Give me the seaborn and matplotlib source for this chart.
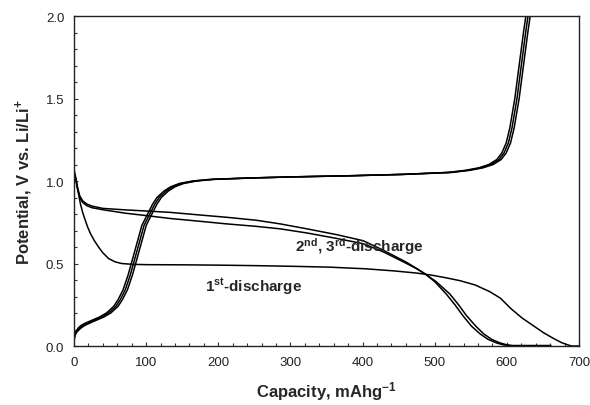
import numpy as np
import pandas as pd
import matplotlib
matplotlib.use('Agg')
import matplotlib.pyplot as plt
import seaborn as sns
from matplotlib.ticker import MultipleLocator

# --- values (capacity in mAh/g, potential in V) ---
# 1st discharge
d1_cap = [0, 3, 6, 9, 12, 15, 19, 23, 28, 34, 40, 48, 57, 66, 81, 101, 152, 202,
          253, 303, 354, 404, 444, 475, 495, 515, 535, 556, 576, 591, 606, 621,
          636, 651, 665, 676, 685, 690, 700]
d1_v = [1.05, 1.0, 0.93, 0.86, 0.81, 0.77, 0.72, 0.68, 0.64, 0.6, 0.565, 0.53,
        0.51, 0.5, 0.495, 0.493, 0.492, 0.49, 0.487, 0.483, 0.478, 0.468, 0.455,
        0.442, 0.43, 0.414, 0.396, 0.37, 0.33, 0.29, 0.225, 0.17, 0.125, 0.08,
        0.045, 0.02, 0.006, 0.0, 0.0]

# 2nd discharge
d2_cap = [0, 2, 5, 8, 12, 18, 25, 40, 71, 101, 133, 172, 212, 253, 286, 323, 364,
          401, 429, 461, 475, 487, 500, 516, 528, 539, 551, 563, 574, 586, 596,
          606, 661]
d2_v = [1.07, 1.03, 0.96, 0.91, 0.88, 0.86, 0.848, 0.834, 0.825, 0.818, 0.81,
        0.795, 0.78, 0.762, 0.74, 0.71, 0.675, 0.638, 0.58, 0.507, 0.47, 0.436,
        0.39, 0.315, 0.25, 0.184, 0.12, 0.073, 0.04, 0.018, 0.006, 0.003, 0.003]

# 3rd discharge
d3_cap = [0, 2, 5, 8, 12, 18, 25, 40, 71, 101, 133, 172, 212, 253, 286, 323, 364,
          401, 429, 461, 475, 487, 502, 521, 533, 544, 557, 568, 579, 591, 601, 606]
d3_v = [1.06, 1.02, 0.95, 0.9, 0.87, 0.85, 0.838, 0.826, 0.805, 0.79, 0.773,
        0.757, 0.74, 0.725, 0.71, 0.685, 0.652, 0.62, 0.57, 0.50, 0.468, 0.436,
        0.39, 0.315, 0.25, 0.184, 0.12, 0.073, 0.04, 0.018, 0.006, 0.003]

# charge curves (three cycles, same potential steps)
chg_v = [0.0, 0.05, 0.075, 0.09, 0.11, 0.125, 0.135, 0.145, 0.16, 0.175, 0.2,
         0.24, 0.28, 0.34, 0.43, 0.54, 0.65, 0.73, 0.8, 0.86, 0.9, 0.94, 0.965,
         0.985, 1.0, 1.01, 1.018, 1.025, 1.032, 1.04, 1.052, 1.065, 1.08, 1.10,
         1.13, 1.17, 1.23, 1.32, 1.5, 1.7, 1.9, 2.05]
c1_cap = [0, 0.5, 1.5, 3, 6, 10, 14, 19, 27, 35, 45, 55, 61, 68, 75, 82, 89, 94,
          102, 109, 115, 125, 134, 146, 164, 189, 239, 300, 381, 452, 518, 543,
          561, 575, 586, 593, 599, 604, 611, 617, 623, 628]
c2_cap = [0, 0.5, 2, 4, 8, 12, 17, 22, 30, 38, 48, 58, 64, 71, 78, 85, 92, 97,
          105, 112, 118, 128, 137, 149, 167, 192, 242, 303, 384, 455, 521, 546,
          564, 578, 589, 596, 602, 607, 614, 620, 626, 631]
c3_cap = [0, 0.5, 2.5, 5, 10, 15, 20, 25, 33, 41, 51, 61, 67, 74, 81, 88, 95, 100,
          108, 115, 121, 131, 140, 152, 170, 195, 245, 306, 387, 458, 524, 549,
          567, 581, 592, 599, 605, 610, 617, 623, 629, 634]

curves = {
    'd1': (d1_cap, d1_v),
    'd2': (d2_cap, d2_v),
    'd3': (d3_cap, d3_v),
    'c1': (c1_cap, chg_v),
    'c2': (c2_cap, chg_v),
    'c3': (c3_cap, chg_v),
}

frames = []
for name, (cap, v) in curves.items():
    frames.append(pd.DataFrame({'curve': name, 'cap': cap, 'V': v}))
df = pd.concat(frames, ignore_index=True)

sns.set_style('ticks')
plt.rcParams['font.family'] = ['Liberation Sans', 'DejaVu Sans']
plt.rcParams['mathtext.fontset'] = 'custom'
plt.rcParams['mathtext.rm'] = 'Liberation Sans'
plt.rcParams['mathtext.bf'] = 'Liberation Sans:bold'
plt.rcParams['mathtext.default'] = 'bf'

fig = plt.figure(figsize=(5.9, 4.06), dpi=100)
ax = fig.add_axes([0.1254, 0.1453, 0.856, 0.8128])

sns.lineplot(data=df, x='cap', y='V', units='curve', estimator=None, sort=False,
             color='black', linewidth=1.1, ax=ax)

ax.set_xlim(0, 700)
ax.set_ylim(0, 2.0)
ax.xaxis.set_major_locator(MultipleLocator(100))
ax.xaxis.set_minor_locator(MultipleLocator(20))
ax.yaxis.set_major_locator(MultipleLocator(0.5))
ax.yaxis.set_minor_locator(MultipleLocator(0.1))
ax.yaxis.set_major_formatter(plt.FormatStrFormatter('%.1f'))
ax.tick_params(which='both', direction='in', top=False, right=False,
               labelsize=9.5, labelcolor='#222222', width=0.8, color='#333333')
ax.tick_params(which='major', length=3, pad=7)
ax.tick_params(which='minor', length=2.5)
for s in ax.spines.values():
    s.set_visible(True)
    s.set_linewidth(1.0)
    s.set_color('#222222')

ax.set_xlabel('Capacity, mAhg$^{-1}$', fontsize=12, fontweight='bold', labelpad=8)
ax.set_ylabel('Potential, V vs. Li/Li$^{+}$', fontsize=12, fontweight='bold', labelpad=8)

ax.text(306, 0.61, '2$^{nd}$, 3$^{rd}$-discharge', fontsize=11, fontweight='bold',
        va='center', ha='left')
ax.text(182, 0.365, '1$^{st}$-discharge', fontsize=11, fontweight='bold',
        va='center', ha='left')

fig.savefig('out.png', dpi=100)
